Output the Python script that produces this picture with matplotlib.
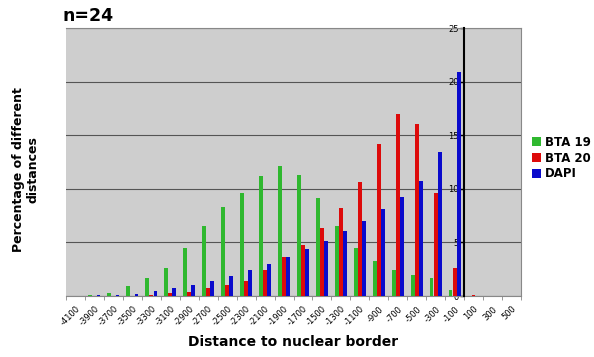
import numpy as np
import matplotlib
matplotlib.use('Agg')
import matplotlib.pyplot as plt

# distance categories (nm) and percentages
distances = [-4100, -3900, -3700, -3500, -3300, -3100, -2900, -2700, -2500, -2300,
             -2100, -1900, -1700, -1500, -1300, -1100, -900, -700, -500, -300,
             -100, 100, 300, 500]
bta19 = [0.0, 0.1, 0.3, 0.9, 1.65, 2.65, 4.45, 6.55, 8.3, 9.6,
         11.2, 12.15, 11.3, 9.1, 6.55, 4.45, 3.25, 2.4, 2.0, 1.65,
         0.55, 0.0, 0.0, 0.0]
bta20 = [0.0, 0.0, 0.0, 0.0, 0.05, 0.25, 0.4, 0.7, 1.0, 1.4,
         2.4, 3.65, 4.8, 6.35, 8.2, 10.65, 14.15, 16.95, 16.0, 9.65,
         2.6, 0.1, 0.0, 0.0]
dapi = [0.0, 0.05, 0.1, 0.2, 0.45, 0.7, 1.0, 1.4, 1.85, 2.4,
        2.95, 3.65, 4.35, 5.15, 6.05, 7.0, 8.1, 9.25, 10.7, 13.4,
        20.9, 0.0, 0.0, 0.0]

series = [('BTA 19', bta19, '#2fb82f'),
          ('BTA 20', bta20, '#dd0a0a'),
          ('DAPI', dapi, '#0a0acc')]

fig = plt.figure(figsize=(5.94, 3.57), dpi=100)
ax = fig.add_axes([66/594, 1 - 296/357, (521 - 66)/594, (296 - 28)/357])
ax.set_facecolor('#cecece')

x = np.arange(len(distances))
w = 0.215
for i, (name, vals, col) in enumerate(series):
    ax.bar(x + (i - 1) * w, vals, width=w * 0.92, color=col, label=name, zorder=3)

ax.set_xlim(-0.5, len(distances) - 0.5)
ax.set_ylim(0, 25)

# y axis sits at distance 0 (between -100 and 100)
ax.spines['left'].set_position(('data', 20.5))
ax.spines['left'].set_color('black')
ax.spines['left'].set_linewidth(1.5)
ax.spines['left'].set_zorder(4)
for s in ['top', 'right', 'bottom']:
    ax.spines[s].set_color('#888888')
    ax.spines[s].set_linewidth(0.8)

ax.set_yticks([0, 5, 10, 15, 20, 25])
ax.tick_params(axis='y', direction='out', length=3, width=1, labelsize=6, pad=1)
ax.yaxis.grid(True, color='#555555', linewidth=0.8, zorder=1)

ax.set_xticks(x)
ax.set_xticklabels([str(d) for d in distances], rotation=45, ha='right',
                   rotation_mode='anchor', fontsize=6)
ax.set_xticks(np.arange(-0.5, len(distances), 1), minor=True)
ax.tick_params(axis='x', which='major', length=0, pad=6)
ax.tick_params(axis='x', which='minor', length=3, color='#888888')

ax.set_xlabel('Distance to nuclear border', fontsize=10, fontweight='bold', labelpad=5)
fig.text(26/594, 1 - 170/357, 'Percentage of different\ndistances', rotation=90,
         ha='center', va='center', fontsize=9, fontweight='bold', linespacing=1.15)
fig.text(62/594, 1 - 16/357, 'n=24', ha='left', va='center', fontsize=12.5, fontweight='bold')

fig.legend(loc='center left', bbox_to_anchor=(527/594, 1 - 158/357), frameon=False,
           prop={'weight': 'bold', 'size': 8.5}, handlelength=0.8, handleheight=0.8,
           handletextpad=0.3, labelspacing=0.25, borderaxespad=0)

fig.savefig('out.png', dpi=100)
